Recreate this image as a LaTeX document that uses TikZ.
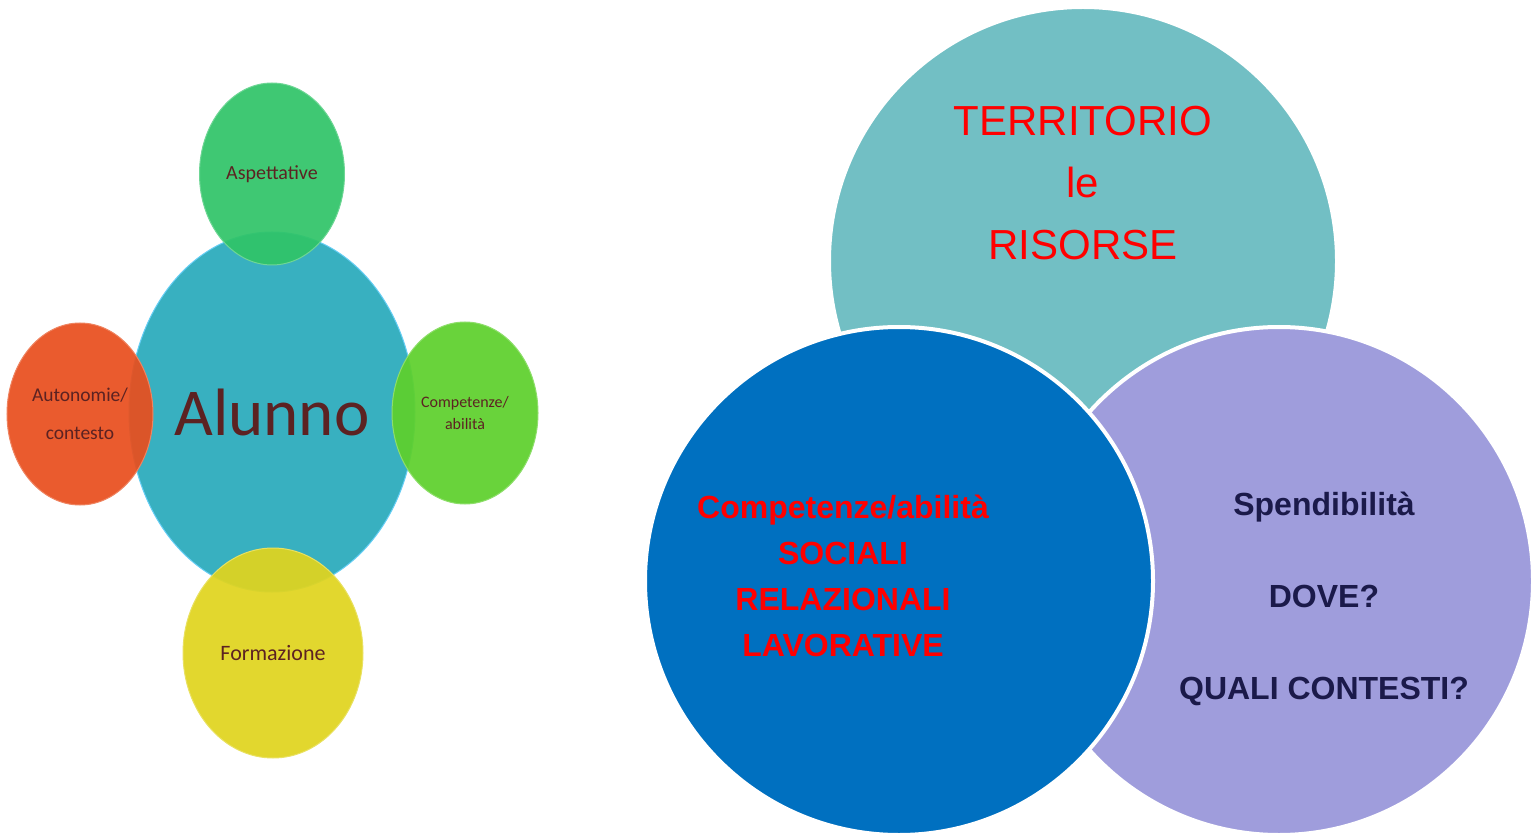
\documentclass[tikz,border=0pt]{standalone}
\usepackage{fontspec}
\setmainfont{Liberation Sans}
\newfontfamily\carlito{Carlito}
\usepackage{tikz}
\usetikzlibrary{shapes.geometric}

\definecolor{alunnoblu}{HTML}{38B0C0}
\definecolor{aspverde}{HTML}{30C468}
\definecolor{autarancio}{HTML}{E84F1E}
\definecolor{compverde}{HTML}{5ED02C}
\definecolor{formgiallo}{HTML}{E0D41E}
\definecolor{testomarrone}{HTML}{5C2222}
\definecolor{terrteal}{HTML}{72BFC4}
\definecolor{socblu}{HTML}{0070C0}
\definecolor{spendlilla}{HTML}{9F9DDC}
\definecolor{testonavy}{HTML}{1B1A4A}

\begin{document}
\begin{tikzpicture}[x=1pt,y=-1pt,
    bolla/.style={ellipse, inner sep=0pt, fill opacity=0.93, text opacity=1,
        text=testomarrone, align=center, line width=1pt},
    venn/.style={circle, inner sep=0pt, minimum size=508pt, draw=white, line width=4pt}]
    \useasboundingbox (0,0) rectangle (1537,834);

    % sinistra
    \node[bolla, fill opacity=1, fill=alunnoblu, draw=cyan!60, minimum width=286pt, minimum height=360pt,
        font=\carlito\fontsize{67}{70}\selectfont] (alunno) at (272,412) {Alunno};
    \node[bolla, fill=aspverde, draw=aspverde!70!white, minimum width=145pt, minimum height=182pt,
        font=\carlito\fontsize{20}{24}\selectfont] (asp) at (272,174) {Aspettative};
    \node[bolla, fill=autarancio, draw=autarancio!70!white, minimum width=146pt, minimum height=182pt,
        font=\carlito\fontsize{19.5}{38}\selectfont] (aut) at (80,414) {Autonomie/\\contesto};
    \node[bolla, fill=compverde, draw=compverde!70!white, minimum width=146pt, minimum height=182pt,
        font=\carlito\fontsize{16}{22}\selectfont] (comp) at (465,413) {Competenze/\\abilit\`a};
    \node[bolla, fill=formgiallo, draw=formgiallo!70!white, minimum width=180pt, minimum height=210pt,
        font=\carlito\fontsize{22}{26}\selectfont] (form) at (273,653) {Formazione};

    % destra
    \node[venn, fill=terrteal] (terr) at (1083,261) {};
    \node[venn, fill=spendlilla] (spend) at (1279,581) {};
    \node[venn, fill=socblu] (soc) at (899,581) {};

    \node[align=center, text=red, font=\fontsize{42}{62}\selectfont] (terrtxt) at (1083,183)
        {TERRITORIO\\le\\RISORSE};
    \node[align=center, text=red, font=\bfseries\fontsize{32}{46}\selectfont] (soctxt) at (843,576)
        {Competenze/abilit\`a\\SOCIALI\\RELAZIONALI\\LAVORATIVE};
    \node[align=center, text=testonavy, font=\bfseries\fontsize{32}{92}\selectfont] (spendtxt) at (1324,599)
        {Spendibilit\`a\\DOVE?\\QUALI CONTESTI?};
\end{tikzpicture}
\end{document}
